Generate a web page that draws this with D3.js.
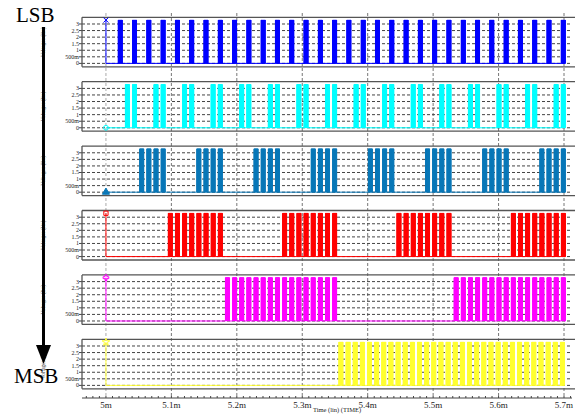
<!DOCTYPE html>
<html>
<head>
<meta charset="utf-8">
<script src="https://cdn.jsdelivr.net/npm/d3@7"></script>
<style>
body { margin: 0; background: #fff; }
svg { display: block; font-family: "Liberation Serif", "Times New Roman", serif; }
</style>
</head>
<body>
<svg width="578" height="414"></svg>
<script>
// trace colours, LSB first
var traceColors = ["#0000ff", "#00ffff", "#0a78b8", "#ff0000", "#ff00ff", "#ffff33"];
// how many clock bursts each high phase holds
var burstsPerGroup = [1, 2, 4, 8, 16, 32];
// start (ms) of each high phase
var bit0Starts = [5.0188, 5.0406, 5.0625, 5.0843, 5.1062, 5.1280, 5.1498, 5.1717, 5.1935, 5.2154,
                  5.2372, 5.2590, 5.2809, 5.3027, 5.3246, 5.3464, 5.3682, 5.3901, 5.4119, 5.4338,
                  5.4556, 5.4774, 5.4993, 5.5211, 5.5430, 5.5648, 5.5866, 5.6085, 5.6303, 5.6522,
                  5.6740, 5.6958];
var bit1Starts = [5.0297, 5.0734, 5.1171, 5.1607, 5.2044, 5.2481, 5.2918, 5.3355, 5.3792, 5.4228,
                  5.4665, 5.5102, 5.5539, 5.5976, 5.6413, 5.6849];
var bit2Starts = [5.0516, 5.1389, 5.2263, 5.3137, 5.4010, 5.4884, 5.5758, 5.6631];
var bit3Starts = [5.0953, 5.2700, 5.4447, 5.6195];
var bit4Starts = [5.1826, 5.5321];
var bit5Starts = [5.3560];
var groupStarts = [bit0Starts, bit1Starts, bit2Starts, bit3Starts, bit4Starts, bit5Starts];
var startLevels = [3.3, 0, 0, 3.3, 3.3, 3.3];
var highLevel = 3.3;
var clockPeriod = 0.01092;   // ms
var burstWidth = 0.0064;     // ms
var tEnd = 5.7;

var yTicks = [0, 0.5, 1, 1.5, 2, 2.5, 3];
var yTickLabels = ["0", "500m", "1", "1.5", "2", "2.5", "3"];
var xTicks = [5, 5.1, 5.2, 5.3, 5.4, 5.5, 5.6, 5.7];
var xTickLabels = ["5m", "5.1m", "5.2m", "5.3m", "5.4m", "5.5m", "5.6m", "5.7m"];

var svg = d3.select("svg");
var left = 82, right = 575, gridRight = 572;
var panelTop0 = 17.3, panelStep = 64.4, panelH = 49.5;
var axisY = 398;

var x = d3.scaleLinear().domain([4.9634, 5.7168]).range([left, right]);

// x grid through everything
svg.append("g").selectAll("line")
    .data(xTicks)
    .enter().append("line")
    .attr("x1", function(d) { return x(d); })
    .attr("x2", function(d) { return x(d); })
    .attr("y1", 13).attr("y2", axisY)
    .attr("stroke", function(d, i) { return i == 0 ? "#aaa" : "#777"; })
    .attr("stroke-dasharray", "3,2");

// left side labels + arrow
traceColors.forEach(function(c, i) {
    var top = panelTop0 + i * panelStep;
    svg.append("text")
        .attr("transform", "translate(45," + (top + panelH / 2) + ") rotate(-90)")
        .attr("text-anchor", "middle")
        .attr("font-size", 5.5)
        .attr("fill", "#444")
        .text("Voltages (lin)");
});
svg.append("line")
    .attr("x1", 43.5).attr("x2", 43.5).attr("y1", 27).attr("y2", 348)
    .attr("stroke", "#000").attr("stroke-width", 3);
svg.append("path")
    .attr("d", "M36,345L51,345L43.5,364Z")
    .attr("fill", "#000");
svg.append("text").attr("x", 16).attr("y", 22).attr("font-size", 21).text("LSB");
svg.append("text").attr("x", 14).attr("y", 383).attr("font-size", 21).text("MSB");

var markers = [d3.symbolTimes, d3.symbolCircle, d3.symbolTriangle, d3.symbolSquare, d3.symbolCross, d3.symbolStar];
var subCount = 12;

traceColors.forEach(function(color, i) {
    var top = panelTop0 + i * panelStep;
    var y = d3.scaleLinear().domain([-0.26, 3.51]).range([top + panelH, top]);
    var g = svg.append("g");

    // y grid
    g.selectAll(".hg").data(yTicks).enter().append("line")
        .attr("x1", left).attr("x2", gridRight)
        .attr("y1", function(d) { return y(d); })
        .attr("y2", function(d) { return y(d); })
        .attr("stroke", "#444").attr("stroke-dasharray", "3,2");
    g.selectAll(".yt").data(yTicks).enter().append("line")
        .attr("x1", left - 3).attr("x2", left)
        .attr("y1", function(d) { return y(d); })
        .attr("y2", function(d) { return y(d); })
        .attr("stroke", "#444");
    g.selectAll(".yl").data(yTicks).enter().append("text")
        .attr("x", left - 3)
        .attr("y", function(d) { return y(d) + 2; })
        .attr("text-anchor", "end")
        .attr("font-size", 6)
        .attr("fill", "#222")
        .text(function(d, k) { return yTickLabels[k]; });

    // frame
    g.append("line").attr("x1", left).attr("x2", right).attr("y1", top).attr("y2", top)
        .attr("stroke", "#555").attr("stroke-width", 1.3);
    g.append("line").attr("x1", left).attr("x2", right).attr("y1", top + panelH).attr("y2", top + panelH)
        .attr("stroke", "#555").attr("stroke-width", 1.3);
    g.append("line").attr("x1", left).attr("x2", left).attr("y1", top).attr("y2", top + panelH)
        .attr("stroke", "#555").attr("stroke-width", 1.3);

    // build trace
    var pts = [[5, startLevels[i]], [5, 0]];
    var sub = burstWidth / subCount;
    groupStarts[i].forEach(function(s) {
        for (var j = 0; j < burstsPerGroup[i]; j++) {
            var b = s + j * clockPeriod;
            if (b + burstWidth > tEnd + 0.004) break;
            for (var k = 0; k < subCount; k++) {
                var t = b + k * sub;
                pts.push([t, 0], [t, highLevel], [t + sub / 2, highLevel], [t + sub / 2, 0]);
            }
        }
    });
    pts.push([tEnd, 0]);

    var line = d3.line()
        .x(function(d) { return x(d[0]); })
        .y(function(d) { return y(d[1]); });
    g.append("path").datum(pts)
        .attr("d", line)
        .attr("fill", "none")
        .attr("stroke", color)
        .attr("stroke-width", 1);

    var sym = d3.symbol().type(markers[i]).size(i == 2 ? 22 : 18);
    g.append("path")
        .attr("d", sym)
        .attr("transform", "translate(" + x(5) + "," + y(startLevels[i] > 0 ? highLevel : 0) + ")")
        .attr("fill", i == 2 ? color : "none")
        .attr("stroke", color)
        .attr("stroke-width", 1);
});

// time axis
var ax = svg.append("g");
ax.append("line").attr("x1", left).attr("x2", gridRight).attr("y1", axisY).attr("y2", axisY)
    .attr("stroke", "#444");
var minor = d3.range(0, 75).map(function(k) { return 4.97 + k * 0.01; });
ax.selectAll(".mt").data(minor).enter().append("line")
    .attr("x1", function(d) { return x(d); })
    .attr("x2", function(d) { return x(d); })
    .attr("y1", axisY - 2).attr("y2", axisY)
    .attr("stroke", "#444");
ax.selectAll(".xl").data(xTicks).enter().append("text")
    .attr("x", function(d) { return x(d); })
    .attr("y", axisY + 10)
    .attr("text-anchor", "middle")
    .attr("font-size", 9)
    .attr("fill", "#222")
    .text(function(d, k) { return xTickLabels[k]; });
ax.append("text")
    .attr("x", 337).attr("y", 412)
    .attr("text-anchor", "middle")
    .attr("font-size", 6.5)
    .attr("fill", "#222")
    .text("Time (lin) (TIME)");
</script>
</body>
</html>
